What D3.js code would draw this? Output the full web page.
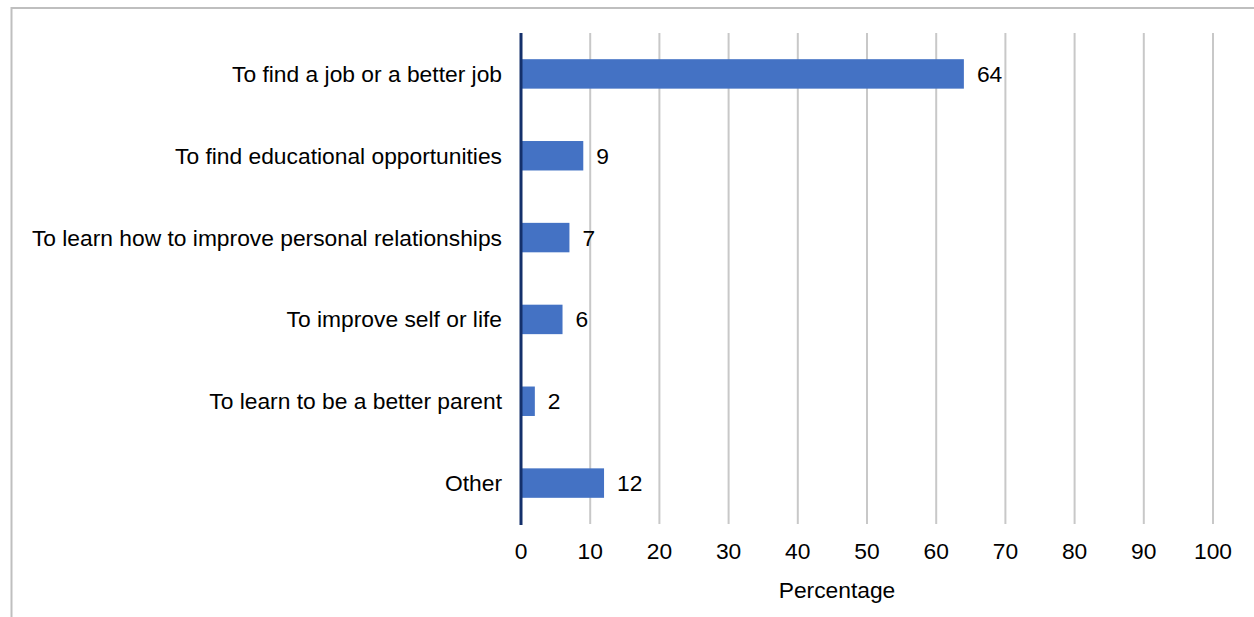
<!DOCTYPE html>
<html><head><meta charset="utf-8">
<script src="https://cdn.jsdelivr.net/npm/d3@7"></script>
<style>body{margin:0;background:#fff;}svg{display:block;font-family:"Liberation Sans",Arial,sans-serif;}</style>
</head><body>
<svg id="c" width="1254" height="617"></svg>
<script>
const categories = ["To find a job or a better job","To find educational opportunities","To learn how to improve personal relationships","To improve self or life","To learn to be a better parent","Other"];
const values = [64, 9, 7, 6, 2, 12];
const xTicks = [0,10,20,30,40,50,60,70,80,90,100];
const xTitle = "Percentage";

const FS = 22.8;
const svg = d3.select("#c");
// outer frame
svg.append("line").attr("x1",11).attr("x2",1254).attr("y1",8).attr("y2",8).attr("stroke","#bfbfbf").attr("stroke-width",2);
svg.append("line").attr("x1",11.5).attr("x2",11.5).attr("y1",7).attr("y2",617).attr("stroke","#bfbfbf").attr("stroke-width",2);

const pLeft = 521, pRight = 1213, pTop = 33, pBottom = 524;
const x = d3.scaleLinear().domain([0,100]).range([pLeft,pRight]);
const y = d3.scaleBand().domain(categories).range([pTop,pBottom]).paddingInner(0.64).paddingOuter(0.32);

// gridlines
svg.append("g").selectAll("line").data(xTicks.filter(d=>d>0)).join("line")
  .attr("x1",d=>x(d)).attr("x2",d=>x(d)).attr("y1",pTop).attr("y2",pBottom)
  .attr("stroke","#c8c8c8").attr("stroke-width",2);

// bars
svg.append("g").selectAll("rect").data(values).join("rect")
  .attr("x",x(0)).attr("y",(d,i)=>y(categories[i]))
  .attr("width",d=>x(d)-x(0)).attr("height",y.bandwidth())
  .attr("fill","#4472c4");

// axis line
svg.append("line").attr("x1",x(0)).attr("x2",x(0)).attr("y1",pTop).attr("y2",pBottom+1)
  .attr("stroke","#14306b").attr("stroke-width",3);

// value labels
svg.append("g").selectAll("text").data(values).join("text")
  .attr("x",d=>x(d)+13).attr("y",(d,i)=>y(categories[i])+y.bandwidth()/2)
  .attr("dy","0.35em").attr("font-size",FS).attr("fill","#000").text(d=>d);

// category labels
svg.append("g").selectAll("text").data(categories).join("text")
  .attr("x",502).attr("y",d=>y(d)+y.bandwidth()/2).attr("dy","0.35em")
  .attr("text-anchor","end").attr("font-size",FS).attr("fill","#000").text(d=>d);

// x tick labels
svg.append("g").selectAll("text").data(xTicks).join("text")
  .attr("x",d=>x(d)).attr("y",551).attr("dy","0.35em").attr("text-anchor","middle")
  .attr("font-size",FS).attr("fill","#000").text(d=>d);

svg.append("text").attr("x",837).attr("y",590).attr("dy","0.35em").attr("text-anchor","middle")
  .attr("font-size",FS).attr("fill","#000").text(xTitle);
</script>
</body></html>
